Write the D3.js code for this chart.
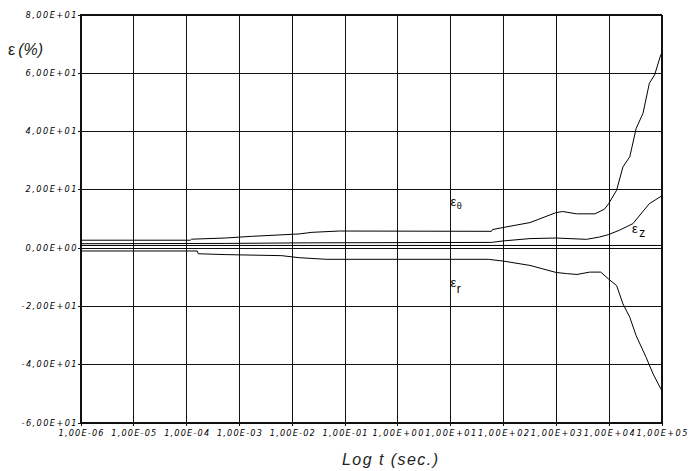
<!DOCTYPE html>
<html><head><meta charset="utf-8">
<script src="https://cdn.jsdelivr.net/npm/d3@7"></script>
<style>body{margin:0;background:#fff}svg{display:block}</style>
</head><body>
<svg id="c" width="690" height="471"></svg>
<script>
// ---- data ----
const xTicks = [1e-6,1e-5,1e-4,1e-3,1e-2,1e-1,1e0,1e1,1e2,1e3,1e4,1e5];
const xTickLabels = ["1,00E-06","1,00E-05","1,00E-04","1,00E-03","1,00E-02","1,00E-01","1,00E+00","1,00E+01","1,00E+02","1,00E+03","1,00E+04","1,00E+05"];
const yTicks = [-60,-40,-20,0,20,40,60,80];
const yTickLabels = ["-6,00E+01","-4,00E+01","-2,00E+01","0,00E+00","2,00E+01","4,00E+01","6,00E+01","8,00E+01"];

// log10(t) and strain (%) per series
const thetaLogT = [-6,-3.92,-3.9,-3.26,-2.74,-2.24,-1.86,-1.62,-1.10,1.78,1.80,2.0,2.51,3.0,3.13,3.39,3.74,3.92,4.0,4.15,4.27,4.40,4.52,4.65,4.77,4.87,4.98,5.0];
const thetaVal  = [2.55,2.55,2.9,3.3,3.9,4.35,4.7,5.25,5.7,5.6,6.2,6.9,8.6,12.0,12.4,11.6,11.6,13.2,15.1,19.7,27.7,31.2,40.9,46.1,56.4,59.3,65.8,66.6];

const zLogT = [-6,-3.26,-1.7,1.78,2.0,2.51,3.0,3.58,3.83,4.0,4.2,4.46,4.77,5.0];
const zVal  = [1.35,1.45,1.65,1.8,2.3,3.1,3.3,2.85,3.65,4.5,5.95,8.25,15.1,17.7];

const flatLogT = [-6,5];
const flatVal  = [0.75,0.75];

const rLogT = [-6,-3.79,-3.77,-3.23,-2.19,-1.86,-1.35,1.72,2.0,2.51,3.0,3.2,3.4,3.64,3.85,4.0,4.15,4.27,4.40,4.52,4.71,4.84,4.98,5.0];
const rVal  = [-1.15,-1.15,-2.1,-2.4,-2.75,-3.45,-4.0,-4.0,-4.6,-6.1,-8.5,-8.9,-9.2,-8.4,-8.4,-10.8,-13.0,-19.3,-23.9,-30.2,-37.7,-43.3,-48.2,-48.8];

// ---- drawing ----
const svg = d3.select("#c");
const L = 80.5, R = 661.5, T = 14.5, B = 422.5;
const x = d3.scaleLog().domain([1e-6,1e5]).range([L,R]);
const y = d3.scaleLinear().domain([-60,80]).range([B,T]);
const font = "'Liberation Sans', Arial, sans-serif";
const tickFont = "'DejaVu Sans', Verdana, sans-serif";

// grid
svg.append("g").attr("transform",`translate(0,${B})`)
  .call(d3.axisBottom(x).tickValues(xTicks).tickSize(-(B-T)).tickFormat(""))
  .call(g=>g.select(".domain").remove())
  .selectAll("line").attr("stroke","#111").attr("shape-rendering","crispEdges");
svg.append("g").attr("transform",`translate(${L},0)`)
  .call(d3.axisLeft(y).tickValues(yTicks).tickSize(-(R-L)).tickFormat(""))
  .call(g=>g.select(".domain").remove())
  .selectAll("line").attr("stroke","#111").attr("shape-rendering","crispEdges");

// axes with labels
const xa = svg.append("g").attr("transform",`translate(0,${B})`)
  .call(d3.axisBottom(x).tickValues(xTicks).tickSize(3).tickPadding(5)
    .tickFormat((d,i)=>xTickLabels[i]));
xa.select(".domain").attr("stroke","#111").attr("shape-rendering","crispEdges");
xa.selectAll("line").attr("stroke","#111").attr("shape-rendering","crispEdges");
xa.selectAll("text").attr("font-family",tickFont).attr("font-style","italic")
  .attr("font-size","8.2px").attr("fill","#000").attr("dy","0.62em")
  .attr("textLength",(d,i)=>xTickLabels[i].includes("+")?51:45)
  .attr("lengthAdjust","spacing");

const ya = svg.append("g").attr("transform",`translate(${L},0)`)
  .call(d3.axisLeft(y).tickValues(yTicks).tickSize(3).tickPadding(1)
    .tickFormat((d,i)=>yTickLabels[i]));
ya.select(".domain").attr("stroke","#111").attr("shape-rendering","crispEdges");
ya.selectAll("line").attr("stroke","#111").attr("shape-rendering","crispEdges");
ya.selectAll("text").attr("font-family",tickFont).attr("font-style","italic")
  .attr("font-size","8.2px").attr("fill","#000")
  .attr("textLength",(d,i)=>yTickLabels[i].startsWith("-")?55:51)
  .attr("lengthAdjust","spacing");

// frame
svg.append("rect").attr("x",L).attr("y",T).attr("width",R-L).attr("height",B-T)
  .attr("fill","none").attr("stroke","#111").attr("shape-rendering","crispEdges");

// curves
const line = d3.line().x(d=>x(Math.pow(10,d[0]))).y(d=>y(d[1]));
const series = [[thetaLogT,thetaVal],[zLogT,zVal],[flatLogT,flatVal],[rLogT,rVal]];
series.forEach(([t,v])=>{
  svg.append("path").datum(t.map((e,i)=>[e,v[i]]))
    .attr("d",line).attr("fill","none").attr("stroke","#000").attr("stroke-width",1);
});

// curve labels
function lab(xp,yp,sub,dx,dy,fs1,fs2){
  const t = svg.append("text").attr("x",xp).attr("y",yp).attr("font-family",font).attr("fill","#000");
  t.append("tspan").attr("font-size",fs1+"px").text("ε");
  t.append("tspan").attr("font-size",fs2+"px").attr("dx",dx).attr("dy",dy).text(sub);
}
lab(450.5,206,"θ",0.5,3,13,9);
lab(632,233,"z",1.5,4,13,12);
lab(450.5,287,"r",0.5,6,13,12);

// axis titles
svg.append("text").attr("x",390).attr("y",465).attr("text-anchor","middle")
  .attr("font-family",font).attr("font-style","italic").attr("font-size","16px")
  .attr("textLength",96).attr("lengthAdjust","spacing").attr("fill","#222")
  .text("Log t (sec.)");
const yt = svg.append("text").attr("x",8).attr("y",54.5).attr("font-family",font)
  .attr("font-size","16px").attr("fill","#222");
yt.append("tspan").text("ε");
yt.append("tspan").attr("font-style","italic").attr("dx",3).text("(%)");
</script>
</body></html>
